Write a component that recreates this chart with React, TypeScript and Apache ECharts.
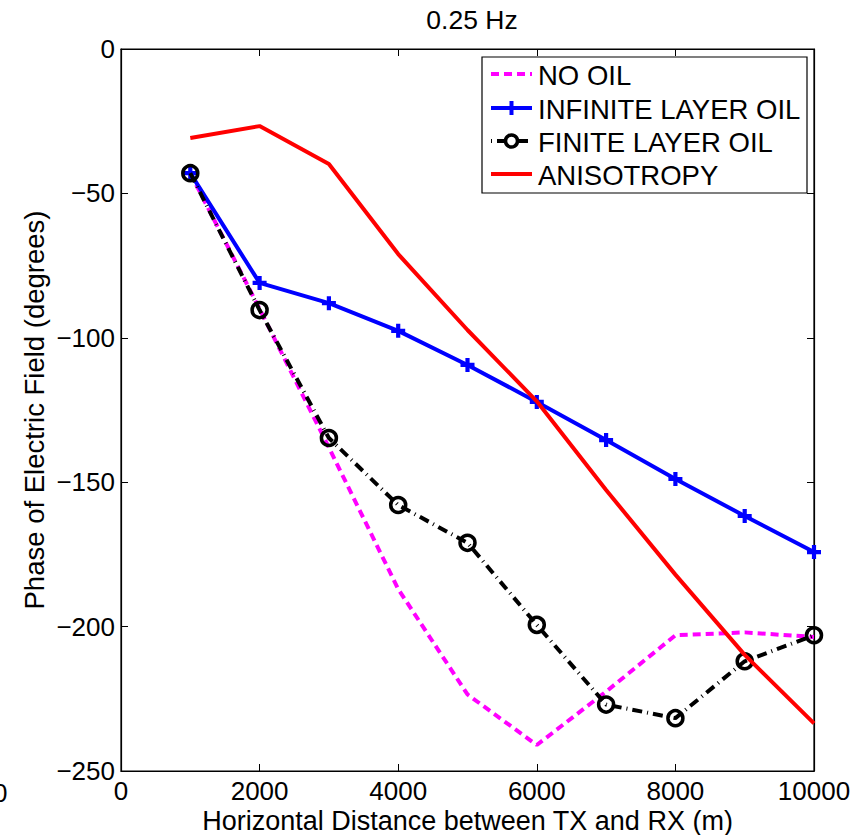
import React, { useEffect, useRef } from "react";
import * as echarts from "echarts";

const distances = [1000, 2000, 3000, 4000, 5000, 6000, 7000, 8000, 9000, 10000];
const noOil = [-43, -90, -138, -187, -223.5, -241, -222.5, -203, -202, -203.6];
const infiniteLayer = [-43, -81, -88, -97.6, -109.4, -122.2, -135.4, -148.9, -161.7, -174.2];
const finiteLayer = [-43, -90.4, -134.7, -157.9, -171, -199.4, -227, -231.7, -212, -203];
const anisotropy = [-30.8, -26.7, -39.8, -71, -97.3, -122, -152.7, -182, -209.8, -233.5];
const seriesNames = ["NO OIL", "INFINITE LAYER OIL", "FINITE LAYER OIL", "ANISOTROPY"];
const titleText = "0.25 Hz";
const xAxisName = "Horizontal Distance between TX and RX (m)";
const yAxisName = "Phase of Electric Field (degrees)";

const FONT = "'Liberation Sans', Arial, sans-serif";
const pairs = (ys: number[]) => distances.map((d, i) => [d, ys[i]]);
const fmt = (v: number) => (v < 0 ? "\u2212" + Math.abs(v) : String(v));
const PLUS = "path://M3.5,0h3v3.5h3.5v3h-3.5v3.5h-3v-3.5h-3.5v-3h3.5z";
const MAGENTA = "#ff00ff";
const BLUE = "#0000ff";
const RED = "#ff0000";
const LW = 4;
const DASH = [8, 5];
const DASHDOT = [10, 5, 1, 5];

function legendGraphic() {
  const boxL = 482, boxT = 57, boxR = 807, boxB = 193;
  const rows = [74, 108, 141, 174];
  const x0 = 491, x1 = 532, xm = 511.5, tx = 538;
  const els: any[] = [
    {
      type: "rect",
      shape: { x: boxL, y: boxT, width: boxR - boxL, height: boxB - boxT },
      style: { fill: "#fff", stroke: "#000", lineWidth: 1.2 },
      z: 100,
    },
  ];
  const lineStyles = [
    { stroke: MAGENTA, lineWidth: LW, lineDash: DASH },
    { stroke: BLUE, lineWidth: LW },
    { stroke: "#000", lineWidth: LW, lineDash: [1, 5, 10, 5] },
    { stroke: RED, lineWidth: LW },
  ];
  rows.forEach((y, i) => {
    els.push({ type: "line", shape: { x1: x0, y1: y, x2: x1, y2: y }, style: lineStyles[i], z: 101 });
    els.push({
      type: "text",
      x: tx,
      y: y + 1,
      style: { text: seriesNames[i], fontFamily: FONT, fontSize: 27.5, fill: "#000", verticalAlign: "middle" },
      z: 102,
    });
  });
  els.push({ type: "line", shape: { x1: xm - 7, y1: rows[1], x2: xm + 7, y2: rows[1] }, style: { stroke: BLUE, lineWidth: 4 }, z: 102 });
  els.push({ type: "line", shape: { x1: xm, y1: rows[1] - 7, x2: xm, y2: rows[1] + 7 }, style: { stroke: BLUE, lineWidth: 4 }, z: 102 });
  els.push({ type: "circle", shape: { cx: xm, cy: rows[2], r: 6 }, style: { fill: "#fff", stroke: "#000", lineWidth: 3.5 }, z: 102 });
  return els;
}

export default function App() {
  const ref = useRef<HTMLDivElement>(null);
  useEffect(() => {
    if (!ref.current) return;
    const chart = echarts.init(ref.current, undefined, { renderer: "svg" });
    const tick = { show: true, inside: true, length: 7, lineStyle: { color: "#000", width: 1 } };
    chart.setOption({
      animation: false,
      backgroundColor: "#fff",
      title: {
        text: titleText,
        left: 467,
        textAlign: "center",
        top: 1,
        textStyle: { fontFamily: FONT, fontSize: 26.5, fontWeight: "normal", color: "#000" },
      },
      grid: {
        left: 121,
        top: 49,
        right: 47,
        bottom: 64,
        show: true,
        borderColor: "#000",
        borderWidth: 1.2,
        outerBoundsMode: "none",
        containLabel: false,
      },
      xAxis: [
        {
          type: "value",
          min: 0,
          max: 10000,
          interval: 2000,
          position: "bottom",
          name: xAxisName,
          nameLocation: "middle",
          nameGap: 38,
          nameMoveOverlap: false,
          nameTextStyle: { fontFamily: FONT, fontSize: 27, color: "#000", lineHeight: 24 },
          axisLine: { show: true, onZero: false, lineStyle: { color: "#000", width: 1.2 } },
          axisTick: tick,
          axisLabel: { fontFamily: FONT, fontSize: 26, color: "#000", margin: 9, lineHeight: 22, formatter: fmt },
          splitLine: { show: false },
        },
        {
          type: "value",
          min: 0,
          max: 10000,
          interval: 2000,
          position: "top",
          axisLine: { show: true, onZero: false, lineStyle: { color: "#000", width: 1.2 } },
          axisTick: tick,
          axisLabel: { show: false },
          splitLine: { show: false },
        },
      ],
      yAxis: [
        {
          type: "value",
          min: -250,
          max: 0,
          interval: 50,
          position: "left",
          name: yAxisName,
          nameLocation: "middle",
          nameGap: 73,
          nameMoveOverlap: false,
          nameTextStyle: { fontFamily: FONT, fontSize: 27.5, color: "#000" },
          axisLine: { show: true, onZero: false, lineStyle: { color: "#000", width: 1.2 } },
          axisTick: tick,
          axisLabel: { fontFamily: FONT, fontSize: 26, color: "#000", margin: 6, formatter: fmt },
          splitLine: { show: false },
        },
        {
          type: "value",
          min: -250,
          max: 0,
          interval: 50,
          position: "right",
          axisLine: { show: true, onZero: false, lineStyle: { color: "#000", width: 1.2 } },
          axisTick: tick,
          axisLabel: { show: false },
          splitLine: { show: false },
        },
      ],
      series: [
        {
          name: seriesNames[0],
          type: "line",
          data: pairs(noOil),
          symbol: "none",
          lineStyle: { color: MAGENTA, width: LW, type: DASH },
          itemStyle: { color: MAGENTA },
          z: 2,
        },
        {
          name: seriesNames[1],
          type: "line",
          data: pairs(infiniteLayer),
          symbol: PLUS,
          symbolSize: 14,
          lineStyle: { color: BLUE, width: LW },
          itemStyle: { color: BLUE },
          z: 3,
        },
        {
          name: seriesNames[2],
          type: "line",
          data: pairs(finiteLayer),
          symbol: "circle",
          symbolSize: 15,
          lineStyle: { color: "#000", width: LW, type: DASHDOT, cap: "butt" },
          itemStyle: { color: "rgba(0,0,0,0)", borderColor: "#000", borderWidth: 3.5 },
          z: 4,
        },
        {
          name: seriesNames[3],
          type: "line",
          data: pairs(anisotropy),
          symbol: "none",
          lineStyle: { color: RED, width: LW },
          itemStyle: { color: RED },
          z: 5,
        },
      ],
      graphic: [
        ...legendGraphic(),
        {
          type: "text",
          left: -7,
          top: 780,
          style: { text: "0", fontFamily: FONT, fontSize: 26, fill: "#000" },
        },
      ],
    });
    return () => chart.dispose();
  }, []);
  return <div ref={ref} style={{ width: 861, height: 835, position: "absolute", left: 0, top: 0 }} />;
}
